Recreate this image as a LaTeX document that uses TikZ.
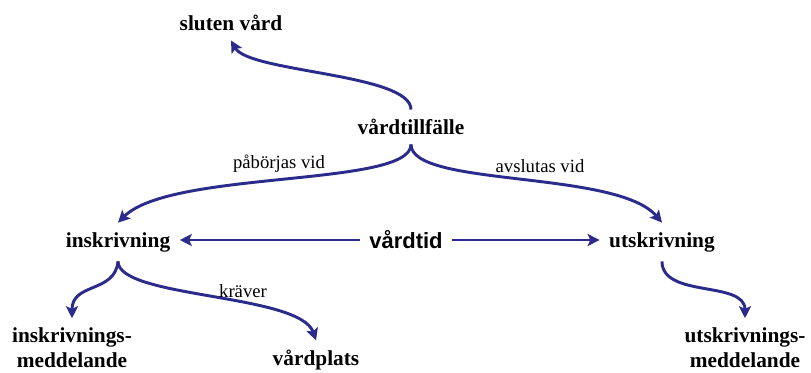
\documentclass[tikz,border=0pt]{standalone}
\usepackage{fontspec}
\setmainfont{Liberation Serif}
\newfontfamily\tidfont{Liberation Sans}
\usetikzlibrary{arrows.meta}
\definecolor{linkblue}{RGB}{43,43,140}

\begin{document}
\begin{tikzpicture}[x=0.75pt, y=-0.75pt,
    term/.style={font=\fontsize{16}{19}\selectfont\bfseries, inner sep=7pt, align=center},
    rel/.style={font=\fontsize{14}{16}\selectfont, inner sep=0pt},
    link/.style={draw=linkblue, line width=2.2pt, -{Stealth[length=9pt, width=9pt, inset=2pt]}}]

    \useasboundingbox (0,0) rectangle (811,372);

    % Concepts
    \node[term] (sluten) at (231,23) {sluten vård};
    \node[term] (tillf) at (411,127) {vårdtillfälle};
    \node[term] (inskr) at (118,242) {inskrivning};
    \node[term, font=\fontsize{16.5}{19}\selectfont\tidfont\bfseries] (vtid) at (406,240) {vårdtid};
    \node[term] (utskr) at (662,242) {utskrivning};
    \node[term] (inmedd) at (72,348) {inskrivnings-\\meddelande};
    \node[term] (plats) at (316,360) {vårdplats};
    \node[term] (utmedd) at (745,348) {utskrivnings-\\meddelande};

    % Relations
    \draw[link] (tillf.north) .. controls +(0,-36) and +(18,32) .. (sluten.south);
    \draw[link] (tillf.south) .. controls +(0,43) and +(53,-53) .. (inskr.north);
    \draw[link] (tillf.south) .. controls +(0,43) and +(-45,-53) .. (utskr.north);
    \draw[link] (vtid.west) -- (inskr.east |- vtid.west);
    \draw[link] (vtid.east) -- (utskr.west |- vtid.east);
    \draw[link] (inskr.south) .. controls +(-3,32) and +(0,-36) .. (inmedd.north);
    \draw[link] (inskr.south) .. controls +(0,37) and +(-16,-47) .. (plats.north);
    \draw[link] (utskr.south) .. controls +(0,37) and +(0,-38) .. (utmedd.north);

    % Labels
    \node[rel] (lstart) at (279,164) {påbörjas vid};
    \node[rel] (lend) at (540,166) {avslutas vid};
    \node[rel] (lneed) at (243,291) {kräver};
\end{tikzpicture}
\end{document}
